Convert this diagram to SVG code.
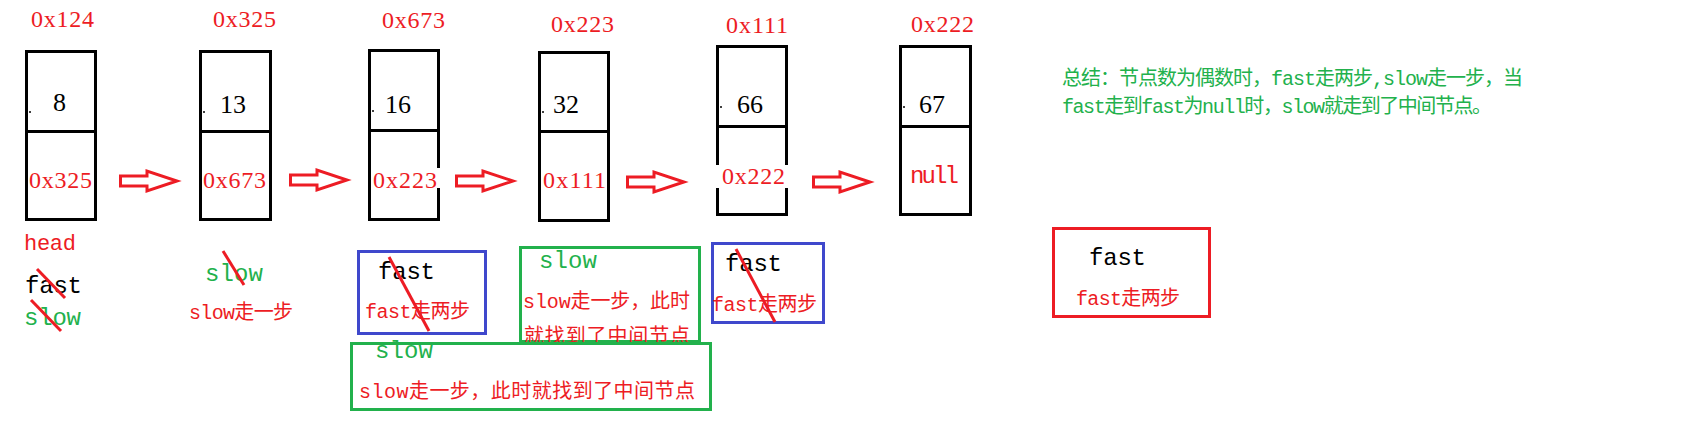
<svg xmlns="http://www.w3.org/2000/svg" width="1686" height="422" viewBox="0 0 1686 422">
<style>
text{font-family:"Liberation Serif","Noto Sans CJK SC",serif;}
.m{font-family:"Liberation Mono","Noto Sans CJK SC",monospace;}
.box{fill:none;stroke:#000;stroke-width:3;}
.div{stroke:#000;stroke-width:3;}
.addr{fill:#ed1c24;font-size:24px;}
.val{fill:#000;font-size:26px;}
.big{font-size:24px;}
.blk{fill:#000;}
.grn{fill:#22b14c;}
.red{fill:#ed1c24;}
.lbl{fill:#ed1c24;font-size:20px;}
.strike{stroke:#ed1c24;stroke-width:3;}
.arrow{fill:#fff;stroke:#ed1c24;stroke-width:3;}
.bbox{fill:none;stroke:#3f48cc;stroke-width:3;}
.gbox{fill:none;stroke:#22b14c;stroke-width:3;}
.rbox{fill:none;stroke:#ed1c24;stroke-width:3;}
.dot{fill:#000;}
</style>
<rect width="1686" height="422" fill="#fff"/>

<g id="connectors">
  <polygon class="arrow" points="120.5,176 147,176 147,171 177,181 147,191 147,186 120.5,186"/>
  <polygon class="arrow" points="290.5,175 317,175 317,170 347,180 317,190 317,185 290.5,185"/>
  <polygon class="arrow" points="456.5,176 483,176 483,171 513,181 483,191 483,186 456.5,186"/>
  <polygon class="arrow" points="627.5,177 654,177 654,172 684,182 654,192 654,187 627.5,187"/>
  <polygon class="arrow" points="813.5,177 840,177 840,172 870,182 840,192 840,187 813.5,187"/>
</g>

<g id="node-0x124">
  <text class="addr" x="31" y="27" textLength="63">0x124</text>
  <rect class="box" x="26.5" y="51.5" width="69" height="168"/>
  <line class="div" x1="26.5" y1="131.5" x2="95.5" y2="131.5"/>
  <circle class="dot" cx="30" cy="112" r="1"/>
  <text class="val" x="53" y="111">8</text>
  <text class="addr" x="29" y="188" textLength="63">0x325</text>
</g>

<g id="node-0x325">
  <text class="addr" x="213" y="27" textLength="63">0x325</text>
  <rect class="box" x="200.5" y="51.5" width="70" height="168"/>
  <line class="div" x1="200.5" y1="131.5" x2="270.5" y2="131.5"/>
  <circle class="dot" cx="204" cy="112" r="1"/>
  <text class="val" x="220" y="113">13</text>
  <text class="addr" x="203" y="188" textLength="63">0x673</text>
</g>

<g id="node-0x673">
  <text class="addr" x="382" y="28" textLength="63">0x673</text>
  <rect class="box" x="369.5" y="50.5" width="69" height="169"/>
  <line class="div" x1="369.5" y1="130.5" x2="438.5" y2="130.5"/>
  <circle class="dot" cx="373" cy="111" r="1"/>
  <text class="val" x="385" y="113">16</text>
  <rect x="436" y="168" width="6" height="20" fill="#fff"/>
  <text class="addr" x="373" y="188" textLength="64">0x223</text>
</g>

<g id="node-0x223">
  <text class="addr" x="551" y="32" textLength="63">0x223</text>
  <rect class="box" x="539.5" y="52.5" width="69" height="168"/>
  <line class="div" x1="539.5" y1="131.5" x2="608.5" y2="131.5"/>
  <circle class="dot" cx="543" cy="112" r="1"/>
  <text class="val" x="553" y="113">32</text>
  <text class="addr" x="543" y="188" textLength="63">0x111</text>
</g>

<g id="node-0x111">
  <text class="addr" x="726" y="33" textLength="62">0x111</text>
  <rect class="box" x="717.5" y="46.5" width="69" height="168"/>
  <line class="div" x1="717.5" y1="126.5" x2="786.5" y2="126.5"/>
  <circle class="dot" cx="721" cy="107" r="1"/>
  <text class="val" x="737" y="113">66</text>
  <rect x="715" y="165" width="76" height="23" fill="#fff"/>
  <text class="addr" x="722" y="184" textLength="63">0x222</text>
</g>

<g id="node-0x222">
  <text class="addr" x="911" y="32" textLength="63">0x222</text>
  <rect class="box" x="900.5" y="46.5" width="70" height="168"/>
  <line class="div" x1="900.5" y1="126.5" x2="970.5" y2="126.5"/>
  <circle class="dot" cx="904" cy="107" r="1"/>
  <text class="val" x="919" y="113">67</text>
  <text class="addr m" x="910" y="183" font-size="21" textLength="49">null</text>
</g>

<g id="label-head">
  <text class="red m" x="24" y="250" font-size="22" textLength="52">head</text>
  <text class="blk big m" x="25" y="293" textLength="57">fast</text>
  <text class="grn big m" x="24" y="325" textLength="57">slow</text>
  <line class="strike" x1="37" y1="269" x2="65" y2="298"/>
  <line class="strike" x1="31" y1="300" x2="61" y2="331"/>
</g>

<g id="label-step1">
  <text class="grn big m" x="205" y="281" textLength="58">slow</text>
  <line class="strike" x1="223" y1="251" x2="244" y2="285"/>
  <text class="lbl m" x="189" y="319" textLength="104">slow走一步</text>
</g>

<g id="label-fast1">
  <rect class="bbox" x="358.5" y="251.5" width="127" height="82"/>
  <text class="blk big m" x="378" y="279" textLength="57">fast</text>
  <text class="lbl m" x="365" y="318" textLength="105">fast走两步</text>
  <line class="strike" x1="389" y1="257" x2="429" y2="331"/>
</g>

<g id="label-slow2">
  <rect class="gbox" x="520.5" y="247.5" width="179" height="94"/>
  <text class="grn big m" x="539" y="268" textLength="58">slow</text>
  <text class="lbl m" x="523" y="308" textLength="167">slow走一步，此时</text>
  <text class="lbl m" x="524" y="343" textLength="166">就找到了中间节点</text>
</g>

<g id="label-slow3">
  <rect x="351.5" y="343.5" width="359" height="66" fill="#fff" stroke="#22b14c" stroke-width="3"/>
  <text class="grn big m" x="375" y="358" textLength="58">slow</text>
  <text class="lbl m" x="359" y="398" textLength="336">slow走一步，此时就找到了中间节点</text>
</g>

<g id="label-fast2">
  <rect class="bbox" x="712.5" y="243.5" width="111" height="79"/>
  <text class="blk big m" x="725" y="271" textLength="57">fast</text>
  <text class="lbl m" x="712" y="311" textLength="105">fast走两步</text>
  <line class="strike" x1="736" y1="249" x2="775" y2="322"/>
</g>

<g id="label-fast3">
  <rect class="rbox" x="1053.5" y="228.5" width="156" height="88"/>
  <text class="blk big m" x="1089" y="265" textLength="57">fast</text>
  <text class="lbl m" x="1076" y="305" textLength="104">fast走两步</text>
</g>

<g id="summary">
  <text class="grn m" x="1062" y="85" font-size="20" textLength="461">总结：节点数为偶数时，fast走两步,slow走一步，当</text>
  <text class="grn m" x="1062" y="113" font-size="20" textLength="430">fast走到fast为null时，slow就走到了中间节点。</text>
</g>
</svg>
